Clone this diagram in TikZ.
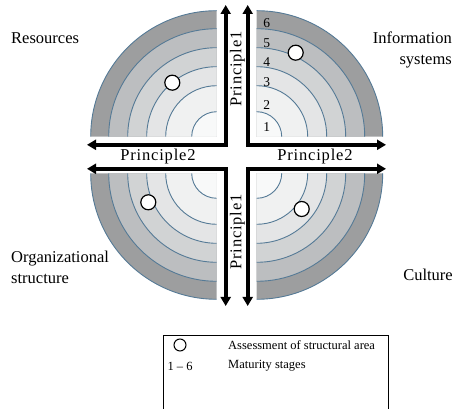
\documentclass[tikz,border=0pt]{standalone}
\usepackage{fontspec}
\setmainfont{Liberation Serif}
\usetikzlibrary{arrows.meta,calc}
\definecolor{ringline}{HTML}{557A96}
\definecolor{ringA}{HTML}{F8F9F9}
\definecolor{ringB}{HTML}{F0F1F1}
\definecolor{ringC}{HTML}{E4E5E6}
\definecolor{ringD}{HTML}{D1D3D4}
\definecolor{ringE}{HTML}{BCBEC0}
\definecolor{ringF}{HTML}{9D9E9F}
\tikzset{every scope/.style={>={Triangle[length=9pt,width=10pt]}},
  ring/.style={draw=ringline,line width=0.9pt},
  axis/.style={<->,line width=3.6pt,line join=miter},
  assess/.style={circle,draw,fill=white,line width=1.2pt,minimum size=15pt,inner sep=0pt},
  lbl/.style={font=\fontsize{16.5}{21}\selectfont,inner sep=0pt},
  axis lbl/.style={font=\fontsize{16.5}{21}\selectfont\addfontfeature{LetterSpace=5},inner sep=0pt},
  small lbl/.style={font=\fontsize{13.5}{16}\selectfont,inner sep=0pt},
  key lbl/.style={font=\fontsize{12.5}{15}\selectfont,inner sep=0pt}}
\newcommand{\ringquad}[2]{%
  \foreach \r/\c in {126/ringF,108/ringE,89/ringD,70/ringC,51/ringB,25/ringA}{
    \fill[\c] (#1) -- ++(#2:\r pt) arc[start angle=#2,end angle=#2+90,radius=\r pt] -- cycle;
    \draw[ring] ($(#1)+(#2:\r pt)$) arc[start angle=#2,end angle=#2+90,radius=\r pt];
  }}

\begin{document}
\begin{tikzpicture}[x=1pt,y=1pt]
      \useasboundingbox (0,0) rectangle (456,409);
      \coordinate (QTR) at (256.7,272.3);
      \coordinate (QTL) at (216.7,272.3);
      \coordinate (QBL) at (216.7,235.7);
      \coordinate (QBR) at (256.7,235.7);
      \ringquad{QTR}{0}
      \ringquad{QTL}{90}
      \ringquad{QBL}{180}
      \ringquad{QBR}{270}

      \coordinate (TLtop) at (225.7,404);  \coordinate (TLc) at (225.7,264.2); \coordinate (TLend) at (87,264.2);
      \coordinate (TRtop) at (247.7,404);  \coordinate (TRc) at (247.7,264.2); \coordinate (TRend) at (386,264.2);
      \coordinate (BLbot) at (225.7,103);  \coordinate (BLc) at (225.7,240.2); \coordinate (BLend) at (87,240.2);
      \coordinate (BRbot) at (247.7,103);  \coordinate (BRc) at (247.7,240.2); \coordinate (BRend) at (386,240.2);
      \draw[axis] (TLtop) -- (TLc) -- (TLend);
      \draw[axis] (TRtop) -- (TRc) -- (TRend);
      \draw[axis] (BLend) -- (BLc) -- (BLbot);
      \draw[axis] (BRend) -- (BRc) -- (BRbot);

      \node[axis lbl,rotate=90] (P1top) at (237.5,340) {Principle1};
      \node[axis lbl,rotate=90] (P1bot) at (237.5,177) {Principle1};
      \node[axis lbl] (P2left)  at (158,252) {Principle2};
      \node[axis lbl] (P2right) at (315,252) {Principle2};

      \node[small lbl] (s6) at (266.7,386) {6};
      \node[small lbl] (s5) at (266.7,366) {5};
      \node[small lbl] (s4) at (266.7,347) {4};
      \node[small lbl] (s3) at (266.7,327) {3};
      \node[small lbl] (s2) at (266.7,304) {2};
      \node[small lbl] (s1) at (266.7,282) {1};

      \node[assess] (aRes) at (172.3,326.3) {};
      \node[assess] (aInf) at (295.7,356.3) {};
      \node[assess] (aOrg) at (148.3,206.7) {};
      \node[assess] (aCul) at (301.7,200) {};

      \node[lbl,anchor=west] (res) at (11,371.3) {Resources};
      \node[lbl,anchor=east,align=right] (inf) at (452,359.5) {Information\\systems};
      \node[lbl,anchor=west,align=left] (org) at (11,141.5) {Organizational\\structure};
      \node[lbl,anchor=east] (cul) at (453,134) {Culture};

      \draw[line width=0.8pt] (163,-2) -- (163,74) -- (388,74) -- (388,-2);
      \node[assess,minimum size=12pt,line width=1pt] (keyA) at (180,64) {};
      \node[key lbl] (keyB) at (180,43) {1 -- 6};
      \node[key lbl,anchor=west] (keyAt) at (228,64) {Assessment of structural area};
      \node[key lbl,anchor=west] (keyBt) at (228,43) {Maturity stages};
    \end{tikzpicture}
\end{document}
